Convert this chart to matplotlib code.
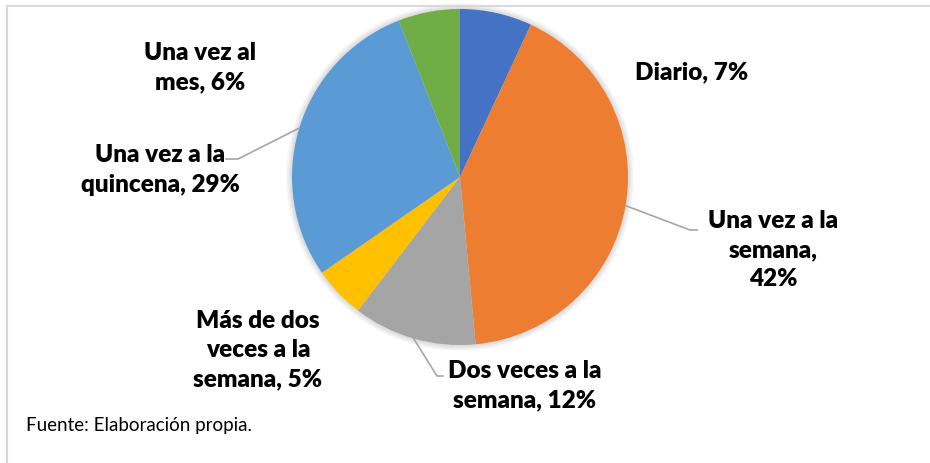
import matplotlib.pyplot as plt
from matplotlib.lines import Line2D
from matplotlib.patches import Circle
import numpy as np

# datos del gráfico (porcentajes)
categorias = ['Diario', 'Una vez a la\nsemana', 'Dos veces a la\nsemana',
              'Más de dos\nveces a la\nsemana', 'Una vez a la\nquincena', 'Una vez al\nmes']
valores = [7, 42, 12, 5, 29, 6]
etiquetas = ['Diario, 7%', 'Una vez a la\nsemana,\n42%', 'Dos veces a la\nsemana, 12%',
             'Más de dos\nveces a la\nsemana, 5%', 'Una vez a la\nquincena, 29%', 'Una vez al\nmes, 6%']
colores = ['#4472C4', '#ED7D31', '#A5A5A5', '#FFC000', '#5B9BD5', '#70AD47']

W, H = 930, 463
fig = plt.figure(figsize=(W / 100, H / 100), dpi=100)
ax = fig.add_axes([0, 0, 1, 1])

cx, cy, r = 460, H - 177, 168

# sombra suave alrededor del pastel
for k in range(6):
    ax.add_patch(Circle((cx, cy), r + 1 + k, color='#000000', alpha=0.025, lw=0, zorder=0))

wedges, _ = ax.pie(valores, colors=colores, startangle=90, counterclock=False,
                   center=(cx, cy), radius=r, frame=True,
                   wedgeprops=dict(linewidth=0))

ax.set_xlim(0, W)
ax.set_ylim(0, H)
ax.set_aspect('equal')
ax.axis('off')

# posiciones de las etiquetas (pixeles, y desde arriba)
pos_etiquetas = [(692, 72), (773, 250), (525, 386), (258, 350), (160, 170), (200, 68)]
for txt, (x, y) in zip(etiquetas, pos_etiquetas):
    ax.text(x, H - y, txt, ha='center', va='center', fontsize=17.5, fontweight='heavy',
            family='Lato', linespacing=1.4, color='#000000')

# líneas guía: (índice de la porción, codo, final)
guias = [(1, (690, 230), (697, 230)),
         (2, (437, 376), (443, 376)),
         (4, (238, 159), (226, 159))]
for i, codo, fin in guias:
    w = wedges[i]
    ang = np.deg2rad((w.theta1 + w.theta2) / 2)
    x0, y0 = cx + r * np.cos(ang), cy + r * np.sin(ang)
    ax.plot([x0, codo[0], fin[0]], [y0, H - codo[1], H - fin[1]], color='#A6A6A6', lw=1.2)

ax.text(26, H - 425, 'Fuente: Elaboración propia.', ha='left', va='center',
        fontsize=13.5, family='Lato', color='#000000')

# marco del gráfico (recortado)
fig.add_artist(Line2D([7 / W, 1], [1 - 6 / H, 1 - 6 / H], color='#D9D9D9', lw=1.5))
fig.add_artist(Line2D([7 / W, 7 / W], [0, 1 - 6 / H], color='#D9D9D9', lw=1.5))

fig.savefig('out.png', dpi=100)
